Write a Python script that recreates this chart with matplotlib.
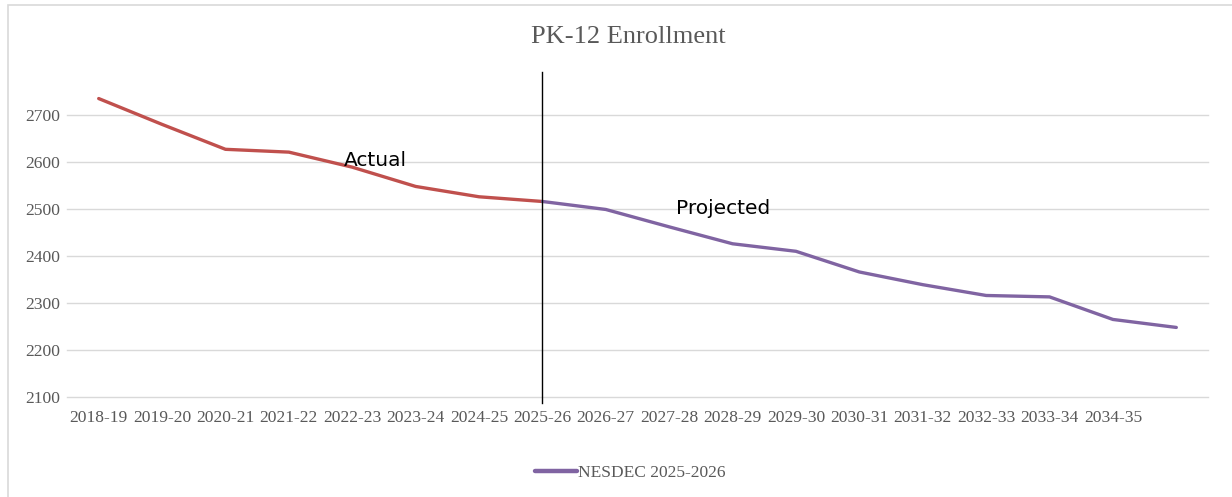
import matplotlib
matplotlib.use('Agg')
import matplotlib.pyplot as plt
from matplotlib.patches import Rectangle

# Categories (last slot has no tick label in the source chart)
years = ['2018-19', '2019-20', '2020-21', '2021-22', '2022-23', '2023-24',
         '2024-25', '2025-26', '2026-27', '2027-28', '2028-29', '2029-30',
         '2030-31', '2031-32', '2032-33', '2033-34', '2034-35', '']

# Actual enrollment 2018-19 .. 2025-26
actual = [2735, 2680, 2627, 2621, 2589, 2548, 2526, 2516]
# NESDEC projection 2025-26 .. end
projected = [2516, 2499, 2462, 2426, 2410, 2366, 2339, 2316, 2313, 2265, 2248]

y_ticks = [2100, 2200, 2300, 2400, 2500, 2600, 2700]
split_year = '2025-26'

RED = '#C0504D'
PURPLE = '#8064A2'
GRAY_TXT = '#595959'
GRID = '#D9D9D9'
SERIF = 'Liberation Serif'

W, H = 1232, 497
fig = plt.figure(figsize=(W / 100, H / 100), dpi=100)
fig.patch.set_facecolor('white')

# light chart-area border (top/left/right visible, bottom runs off the image)
fig.patches.append(Rectangle((8 / W, -0.05), (W - 6) / W, 1.05 - 5 / H,
                             transform=fig.transFigure, fill=False,
                             edgecolor='#D9D9D9', lw=1.2))

ax = fig.add_axes([67 / W, 100 / H, (1208 - 67) / W, (397 - 68) / H])

x_all = list(range(len(years)))
split_idx = years.index(split_year)
x_act = x_all[:len(actual)]
x_proj = x_all[split_idx:split_idx + len(projected)]

ax.plot(x_act, actual, color=RED, lw=2.4, solid_capstyle='round',
        solid_joinstyle='round', zorder=3)
ax.plot(x_proj, projected, color=PURPLE, lw=2.4, solid_capstyle='round',
        solid_joinstyle='round', zorder=3, label='NESDEC 2025-2026')

ax.axvline(split_idx, ymin=-0.018, ymax=0.988, color='black', lw=1.0,
           clip_on=False, zorder=4)

ax.set_xlim(-0.5, len(years) - 0.5)
ax.set_ylim(2100, 2800)
ax.set_yticks(y_ticks)
ax.set_xticks(x_all)
ax.set_xticklabels(years)
ax.grid(axis='y', color=GRID, lw=1.0)
for gl in ax.get_ygridlines():
    gl.set_clip_on(False)
ax.set_axisbelow(True)
for s in ax.spines.values():
    s.set_visible(False)
ax.tick_params(length=0, labelsize=12.6, labelcolor=GRAY_TXT)
ax.tick_params(axis='x', pad=9)
ax.tick_params(axis='y', pad=5)
for lbl in ax.get_xticklabels() + ax.get_yticklabels():
    lbl.set_fontfamily(SERIF)

ax.text(3.86, 2604, 'Actual', fontsize=14.5, family='DejaVu Sans',
        ha='left', va='center', color='black', zorder=5)
ax.text(9.1, 2502, 'Projected', fontsize=14.5, family='DejaVu Sans',
        ha='left', va='center', color='black', zorder=5)

fig.text(628 / W, 1 - 37 / H, 'PK-12 Enrollment', fontsize=19, family=SERIF,
         color=GRAY_TXT, ha='center', va='center')

leg = fig.legend(loc='center', bbox_to_anchor=(630 / W, 1 - 473 / H),
                 frameon=False, handlelength=2.4, handletextpad=0.05,
                 prop={'family': SERIF, 'size': 12.5})
for t in leg.get_texts():
    t.set_color(GRAY_TXT)
for h in leg.get_lines():
    h.set_linewidth(3.2)

fig.savefig('out.png', dpi=100)
